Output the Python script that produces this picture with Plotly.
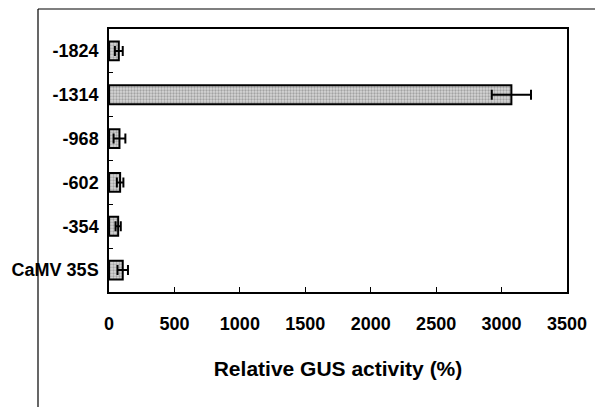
import plotly.graph_objects as go

categories = ["-1824", "-1314", "-968", "-602", "-354", "CaMV 35S"]
values = [75, 3075, 80, 85, 70, 105]
errors = [30, 150, 45, 25, 20, 40]
x_ticks = [0, 500, 1000, 1500, 2000, 2500, 3000, 3500]

fig = go.Figure(go.Bar(
    y=categories, x=values, orientation="h", width=0.43,
    marker=dict(color="#c0c0c0", line=dict(color="black", width=2),
                pattern=dict(shape=".", fgcolor="#6e6e6e", bgcolor="#d6d6d6", size=3, solidity=0.45)),
    error_x=dict(type="data", array=errors, color="black", thickness=2, width=5),
))

font_b = "Liberation Sans, Arial, sans-serif"
# page has an 8px body margin, so the figure is offset by 8px
fig.update_layout(
    width=595, height=399,
    margin=dict(l=101, r=36, t=21, b=115, autoexpand=False),
    paper_bgcolor="white", plot_bgcolor="white",
    showlegend=False,
    font=dict(family=font_b, color="black"),
    xaxis=dict(range=[0, 3500], tickvals=x_ticks, ticks="inside", ticklen=5, tickcolor="black",
               automargin=False,
               showgrid=False, zeroline=False, showline=True, linecolor="black", linewidth=1.5, mirror=True,
               tickfont=dict(size=18, family=font_b, weight="bold"), ticklabelstandoff=15,
               title=dict(text="<b>Relative GUS activity (%)</b>", font=dict(size=21), standoff=28)),
    yaxis=dict(categoryorder="array", categoryarray=categories[::-1], ticks="inside", ticklen=4,
               tickson="boundaries", tickcolor="black", automargin=False,
               showgrid=False, zeroline=False, showline=True, linecolor="black", linewidth=1.5, mirror=True,
               tickfont=dict(size=18, family=font_b, weight="bold"), ticklabelstandoff=5),
    shapes=[
        dict(type="line", xref="paper", yref="paper", x0=-71/458, x1=36/458 + 1, y0=1 + 20/263, y1=1 + 20/263,
             line=dict(color="black", width=1.2)),
        dict(type="line", xref="paper", yref="paper", x0=-71/458, x1=-71/458, y0=1 + 20/263, y1=-115/263,
             line=dict(color="black", width=1.2)),
    ],
)

fig.write_html("out.html")
